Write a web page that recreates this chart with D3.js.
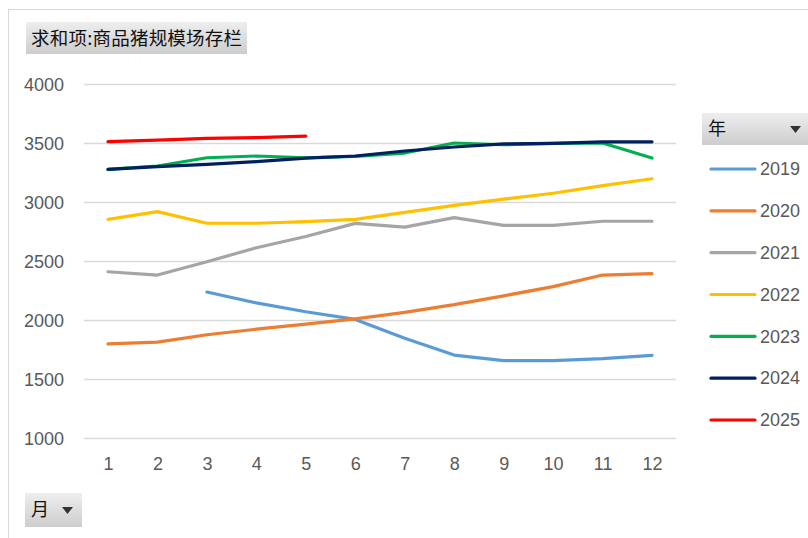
<!DOCTYPE html>
<html><head><meta charset="utf-8">
<script src="https://cdn.jsdelivr.net/npm/d3@7/dist/d3.min.js"></script>
<style>body{margin:0;background:#fff}svg{display:block}</style>
</head><body>
<svg id="c" width="808" height="538"></svg>
<script>
const months = [1,2,3,4,5,6,7,8,9,10,11,12];
const yTicks = [1000,1500,2000,2500,3000,3500,4000];
const years = ["2019","2020","2021","2022","2023","2024","2025"];
const colors = ["#5B9BD5","#ED7D31","#A5A5A5","#FFC000","#00B050","#002060","#FF0000"];
const s2019 = [null,null,2237,2145,2070,2005,1845,1703,1655,1655,1672,1700];
const s2020 = [1797,1812,1875,1922,1965,2010,2065,2130,2205,2283,2381,2393];
const s2021 = [2409,2381,2494,2612,2708,2819,2787,2868,2802,2802,2837,2837];
const s2022 = [2853,2918,2820,2820,2834,2853,2912,2972,3025,3074,3139,3197];
const s2023 = [3277,3305,3375,3390,3375,3386,3415,3500,3485,3496,3500,3373];
const s2024 = [3277,3300,3319,3342,3372,3390,3432,3466,3492,3497,3510,3510];
const s2025 = [3512,3525,3540,3545,3559,null,null,null,null,null,null,null];
const seriesValues = [s2019,s2020,s2021,s2022,s2023,s2024,s2025];
const titleText = "求和项:商品猪规模场存栏";
const legendTitle = "年";
const axisTitle = "月";

const svg = d3.select("#c");
const defs = svg.append("defs");
const g1 = defs.append("linearGradient").attr("id","btn").attr("x1",0).attr("y1",0).attr("x2",0).attr("y2",1);
g1.append("stop").attr("offset","0%").attr("stop-color","#eeeeee");
g1.append("stop").attr("offset","100%").attr("stop-color","#cdcdcd");

// chart border
svg.append("rect").attr("x",8.5).attr("y",9.5).attr("width",900).attr("height",600)
  .attr("fill","#fff").attr("stroke","#d9d9d9").attr("stroke-width",1);

const x = d3.scalePoint().domain(months).range([108,652]);
const y = d3.scaleLinear().domain([1000,4000]).range([438,84]);

// gridlines
svg.append("g").selectAll("line").data(yTicks).join("line")
  .attr("x1",84).attr("x2",676).attr("y1",d=>y(d)+0.5).attr("y2",d=>y(d)+0.5)
  .attr("stroke","#d9d9d9").attr("stroke-width",1.3);

// y axis labels
const yAxis = d3.axisLeft(y).tickValues(yTicks).tickFormat(d3.format("d")).tickSize(0).tickPadding(0);
const ya = svg.append("g").attr("transform","translate(64,0)").call(yAxis);
ya.select(".domain").remove();
ya.selectAll("text").attr("font-family","Liberation Sans, Arial, sans-serif").attr("font-size",18).attr("fill","#595959").attr("dy","0.35em");

// x axis labels
const xAxis = d3.axisBottom(x).tickSize(0).tickPadding(0);
const xa = svg.append("g").attr("transform","translate(0,457)").call(xAxis);
xa.select(".domain").remove();
xa.selectAll("text").attr("font-family","Liberation Sans, Arial, sans-serif").attr("font-size",18).attr("fill","#595959").attr("dy","0.71em");

// lines
const line = d3.line().defined(d=>d.v!=null).x(d=>x(d.m)).y(d=>y(d.v));
seriesValues.forEach((vals,i)=>{
  const data = months.map((m,j)=>({m:m,v:vals[j]}));
  svg.append("path").datum(data).attr("d",line).attr("fill","none")
    .attr("stroke",colors[i]).attr("stroke-width",3.2)
    .attr("stroke-linecap","round").attr("stroke-linejoin","round");
});

// title button
svg.append("rect").attr("x",26).attr("y",22).attr("width",221).attr("height",32).attr("fill","url(#btn)");
svg.append("text").attr("x",31).attr("y",39).attr("dy","0.35em").text(titleText)
  .attr("font-family","Noto Sans CJK SC, sans-serif").attr("font-size",18.5)
  .attr("textLength",211).attr("lengthAdjust","spacing").attr("fill","#111");

// legend header
svg.append("rect").attr("x",702).attr("y",113).attr("width",110).attr("height",32).attr("fill","url(#btn)");
svg.append("text").attr("x",708).attr("y",129).attr("dy","0.35em").text(legendTitle)
  .attr("font-family","Noto Sans CJK SC, sans-serif").attr("font-size",18).attr("fill","#111");
svg.append("path").attr("d","M790,126 L801,126 L795.5,133 Z").attr("fill","#333");

// legend items
const ly = d3.scalePoint().domain(years).range([169,420]);
const leg = svg.append("g").selectAll("g").data(years).join("g")
  .attr("transform",d=>`translate(0,${ly(d)})`);
leg.append("line").attr("x1",711).attr("x2",755).attr("y1",0).attr("y2",0)
  .attr("stroke",(d,i)=>colors[i]).attr("stroke-width",3.2).attr("stroke-linecap","round");
leg.append("text").attr("x",760).attr("y",0).attr("dy","0.35em").text(d=>d)
  .attr("font-family","Liberation Sans, Arial, sans-serif").attr("font-size",18).attr("fill","#595959");

// axis field button
svg.append("rect").attr("x",25).attr("y",493).attr("width",57).attr("height",34).attr("fill","url(#btn)");
svg.append("text").attr("x",31).attr("y",510).attr("dy","0.35em").text(axisTitle)
  .attr("font-family","Noto Sans CJK SC, sans-serif").attr("font-size",18).attr("fill","#111");
svg.append("path").attr("d","M62,507 L73,507 L67.5,514 Z").attr("fill","#333");
</script>
</body></html>
